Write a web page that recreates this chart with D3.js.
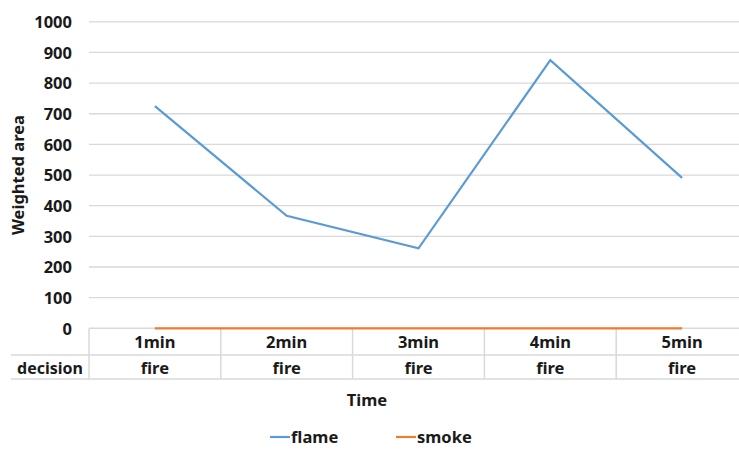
<!DOCTYPE html>
<html>
<head>
<meta charset="utf-8">
<script src="https://cdn.jsdelivr.net/npm/d3@7/dist/d3.min.js"></script>
<style>
  html, body { margin: 0; padding: 0; background: #fff; }
  svg { display: block; font-family: "Noto Sans", "Open Sans", sans-serif; font-weight: bold; }
</style>
</head>
<body>
<svg id="chart" width="739" height="449"></svg>
<script>
// Chart data
const categories = ["1min", "2min", "3min", "4min", "5min"];
const decisions = ["fire", "fire", "fire", "fire", "fire"];
const flame = [725, 367, 261, 875, 491];
const smoke = [0, 0, 0, 0, 0];
const yTicks = [0, 100, 200, 300, 400, 500, 600, 700, 800, 900, 1000];
const seriesNames = ["flame", "smoke"];
const seriesColors = ["#5b9bd5", "#ed7d31"];

(function draw() {
  const svg = d3.select("#chart");
  const grid = "#d9d9d9";
  const textColor = "#1a1a1a";

  const plotLeft = 89, plotRight = 748, plotTop = 21.8, plotBottom = 328.3;
  const row1 = 355, row2 = 379, tableLeft = 11;

  const x = d3.scaleBand().domain(categories).range([plotLeft, plotRight]).padding(0);
  const y = d3.scaleLinear().domain([0, 1000]).range([plotBottom, plotTop]);

  // Horizontal gridlines
  svg.append("g").selectAll("line").data(yTicks.filter(d => d > 0)).join("line")
    .attr("x1", plotLeft).attr("x2", plotRight)
    .attr("y1", d => y(d)).attr("y2", d => y(d))
    .attr("stroke", grid).attr("stroke-width", 1.3);

  // Y axis labels
  const yAxis = d3.axisLeft(y).tickValues(yTicks).tickFormat(d3.format("d"))
    .tickSize(0).tickPadding(0);
  const yg = svg.append("g").attr("transform", "translate(72,0)").call(yAxis);
  yg.select(".domain").remove();
  yg.selectAll("text")
    .attr("font-size", 16.5).attr("font-family", "'Noto Sans', sans-serif")
    .attr("font-weight", "bold").attr("fill", textColor).attr("dy", "0.35em");

  // Y axis title
  svg.append("text")
    .attr("transform", `translate(24,${(plotTop + plotBottom) / 2}) rotate(-90)`)
    .attr("text-anchor", "middle").attr("font-size", 16.5).attr("fill", textColor)
    .text("Weighted area");

  // Data table below the plot
  const tg = svg.append("g");
  tg.append("line").attr("x1", plotLeft).attr("x2", plotRight).attr("y1", plotBottom).attr("y2", plotBottom)
    .attr("stroke", grid).attr("stroke-width", 1.5);
  tg.append("line").attr("x1", tableLeft).attr("x2", plotRight).attr("y1", row1).attr("y2", row1)
    .attr("stroke", grid).attr("stroke-width", 1.5);
  tg.append("line").attr("x1", tableLeft).attr("x2", plotRight).attr("y1", row2).attr("y2", row2)
    .attr("stroke", grid).attr("stroke-width", 1.5);
  tg.selectAll("line.sep").data(categories).join("line").attr("class", "sep")
    .attr("x1", d => x(d)).attr("x2", d => x(d))
    .attr("y1", plotBottom).attr("y2", row2)
    .attr("stroke", grid).attr("stroke-width", 1.5);

  tg.selectAll("text.cat").data(categories).join("text").attr("class", "cat")
    .attr("x", d => x(d) + x.bandwidth() / 2).attr("y", (plotBottom + row1) / 2 + 1)
    .attr("dy", "0.35em").attr("text-anchor", "middle")
    .attr("font-size", 16.5).attr("fill", textColor).text(d => d);
  tg.selectAll("text.dec").data(decisions).join("text").attr("class", "dec")
    .attr("x", (d, i) => x(categories[i]) + x.bandwidth() / 2).attr("y", (row1 + row2) / 2 + 1)
    .attr("dy", "0.35em").attr("text-anchor", "middle")
    .attr("font-size", 16.5).attr("fill", textColor).text(d => d);
  tg.append("text").attr("x", (tableLeft + plotLeft) / 2).attr("y", (row1 + row2) / 2 + 1)
    .attr("dy", "0.35em").attr("text-anchor", "middle")
    .attr("font-size", 16).attr("fill", textColor).text("decision");

  // X axis title
  svg.append("text").attr("x", 367).attr("y", 400).attr("dy", "0.35em")
    .attr("text-anchor", "middle").attr("font-size", 16.5).attr("fill", textColor)
    .text("Time");

  // Series lines
  const cx = d => x(d) + x.bandwidth() / 2;
  const line = d3.line().x(d => cx(d.c)).y(d => y(d.v));
  [flame, smoke].forEach((vals, si) => {
    svg.append("path")
      .datum(vals.map((v, i) => ({ c: categories[i], v })))
      .attr("fill", "none").attr("stroke", seriesColors[si])
      .attr("stroke-width", 2.2).attr("stroke-linejoin", "miter")
      .attr("d", line);
  });

  // Legend
  const legendX = [270, 396];
  const lg = svg.append("g");
  seriesNames.forEach((name, i) => {
    lg.append("line").attr("x1", legendX[i]).attr("x2", legendX[i] + 20)
      .attr("y1", 437).attr("y2", 437)
      .attr("stroke", seriesColors[i]).attr("stroke-width", 2.2);
    lg.append("text").attr("x", legendX[i] + 21).attr("y", 437).attr("dy", "0.35em")
      .attr("font-size", 16.5).attr("fill", textColor).text(name);
  });
})();
</script>
</body>
</html>
